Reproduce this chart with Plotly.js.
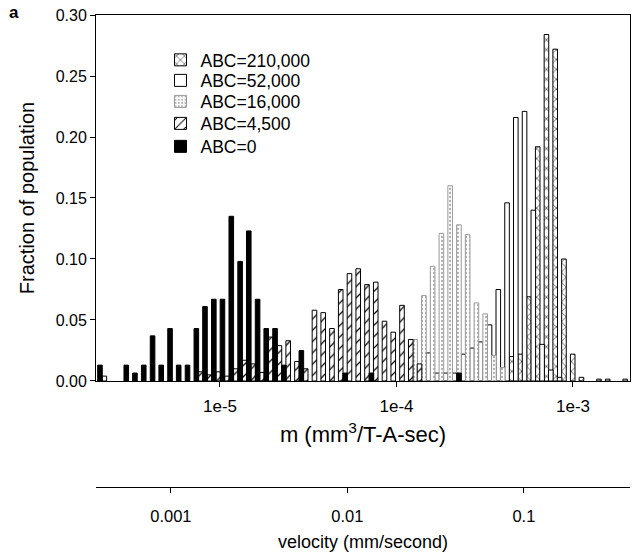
<!DOCTYPE html>
<html>
<head>
<meta charset="utf-8">
<script src="https://cdn.plot.ly/plotly-3.0.1.min.js"></script>
<style>html,body{margin:0;padding:0;background:#fff;}#chart{width:633px;height:552px;}</style>
</head>
<body>
<div id="chart"></div>
<script>
// Bin centres are log10(m) values (m in mm^3/T-A-sec); heights are fraction of population.
const logM_abc210000 = [-3.3488, -3.2992, -3.2496, -3.2000, -3.1504, -3.1008, -3.0512, -3.0016, -2.9520, -2.8528, -2.8032, -2.7040];
const frac_abc210000 = [0.020, 0.022, 0.069, 0.192, 0.284, 0.272, 0.100, 0.022, 0.003, 0.0015, 0.0015, 0.0015];

const logM_abc52000 = [-5.6552, -3.8200, -3.7704, -3.7208, -3.6712, -3.6216, -3.5720, -3.5224, -3.4728, -3.4232, -3.3736, -3.3240, -3.2744, -3.2248, -3.1752, -3.1256, -3.0760];
const frac_abc52000 = [0.004, 0.023, 0.0065, 0.0065, 0.0065, 0.022, 0.027, 0.032, 0.046, 0.075, 0.146, 0.216, 0.221, 0.140, 0.030, 0.009, 0.003];

const logM_abc16000 = [-3.8944, -3.8448, -3.7952, -3.7456, -3.6960, -3.6464, -3.5968, -3.5472, -3.4976, -3.4480, -3.3984];
const frac_abc16000 = [0.034, 0.070, 0.094, 0.121, 0.160, 0.128, 0.120, 0.064, 0.055, 0.021, 0.011];

const logM_abc4500 = [-5.1096, -5.0600, -5.0104, -4.9608, -4.9112, -4.8616, -4.8120, -4.7624, -4.7128, -4.6632, -4.6136, -4.5640, -4.5144, -4.4648, -4.4152, -4.3656, -4.3160, -4.2664, -4.2168, -4.1672, -4.1176, -4.0680, -4.0184, -3.9688, -3.9192, -3.8696];
const frac_abc4500 = [0.0075, 0.005, 0.0075, 0.004, 0.010, 0.017, 0.014, 0.007, 0.036, 0.029, 0.033, 0.016, 0.010, 0.058, 0.056, 0.043, 0.075, 0.088, 0.092, 0.079, 0.081, 0.049, 0.040, 0.062, 0.034, 0.014];

const logM_abc0 = [-5.680, -5.531, -5.482, -5.432, -5.382, -5.333, -5.283, -5.234, -5.184, -5.134, -5.085, -5.035, -4.986, -4.936, -4.886, -4.837, -4.787, -4.738, -4.688, -4.638, -4.539, -4.291, -4.142, -3.646];
const frac_abc0 = [0.013, 0.013, 0.0065, 0.013, 0.037, 0.013, 0.043, 0.013, 0.013, 0.043, 0.061, 0.067, 0.067, 0.135, 0.098, 0.123, 0.067, 0.043, 0.043, 0.013, 0.025, 0.0065, 0.0065, 0.0065];

const seriesNames = ['ABC=210,000', 'ABC=52,000', 'ABC=16,000', 'ABC=4,500', 'ABC=0'];
const mTickVals = [-5, -4, -3];
const mTickText = ['1e-5', '1e-4', '1e-3'];
const velTickVals = [0.001, 0.01, 0.1];
const velTickText = ['0.001', '0.01', '0.1'];
const yTickVals = [0, 0.05, 0.10, 0.15, 0.20, 0.25, 0.30];

const FONT = 'Liberation Sans, Arial, Helvetica, sans-serif';
const BW = 0.026;
const legendIds = ['legend', 'legend2', 'legend3', 'legend4', 'legend5'];
const legendRowY = [0.9047, 0.8612, 0.8167, 0.7701, 0.7214];

function barTrace(i, xs, ys, marker) {
  return {type: 'bar', name: seriesNames[i], legend: legendIds[i], x: xs, y: ys,
          width: xs.map(() => BW), marker: marker, hoverinfo: 'skip'};
}

const traces = [
  barTrace(0, logM_abc210000, frac_abc210000, {
    color: 'white', line: {color: 'black', width: 1},
    pattern: {shape: 'x', size: 7, solidity: 0.15, fgcolor: 'black', bgcolor: 'white', fillmode: 'replace'}}),
  barTrace(1, logM_abc52000, frac_abc52000, {
    color: 'white', line: {color: 'black', width: 1}}),
  barTrace(2, logM_abc16000, frac_abc16000, {
    color: 'white', line: {color: '#9a9a9a', width: 1},
    pattern: {shape: '.', size: 4, solidity: 0.25, fgcolor: '#b0b0b0', bgcolor: 'white', fillmode: 'replace'}}),
  barTrace(3, logM_abc4500, frac_abc4500, {
    color: 'white', line: {color: 'black', width: 1},
    pattern: {shape: '/', size: 8, solidity: 0.15, fgcolor: 'black', bgcolor: 'white', fillmode: 'replace'}}),
  barTrace(4, logM_abc0, frac_abc0, {
    color: 'black', line: {color: 'black', width: 1}}),
  {type: 'scatter', mode: 'markers', x: velTickVals, y: velTickVals.map(() => null),
   xaxis: 'x2', yaxis: 'y', showlegend: false, hoverinfo: 'skip', marker: {opacity: 0}}
];

const layout = {
  width: 633, height: 552,
  margin: {l: 96, r: 3, t: 15, b: 65, pad: 0},
  paper_bgcolor: 'white', plot_bgcolor: 'white',
  font: {family: FONT, color: 'black', size: 16},
  barmode: 'overlay',
  showlegend: true,
  xaxis: {
    range: [-5.7025, -2.677], autorange: false,
    showline: true, linecolor: 'black', linewidth: 1, mirror: true,
    ticks: 'outside', ticklen: 5, tickcolor: 'black', tickwidth: 1,
    tickvals: mTickVals, ticktext: mTickText, tickfont: {size: 17}, ticklabelstandoff: 5,
    showgrid: false, zeroline: false, anchor: 'y', automargin: false,
    title: {text: 'm (mm<sup>3</sup>/T-A-sec)', font: {size: 22}, standoff: 11}
  },
  yaxis: {
    domain: [0.2246, 1], range: [0, 0.30], autorange: false,
    showline: true, linecolor: 'black', linewidth: 1, mirror: true,
    ticks: 'outside', ticklen: 5, tickcolor: 'black', tickwidth: 1,
    tickvals: yTickVals, tickformat: '.2f', tickfont: {size: 16},
    showgrid: false, zeroline: false, automargin: false,
    title: {text: 'Fraction of population', font: {size: 20}, standoff: 15}
  },
  xaxis2: {
    type: 'log', overlaying: 'x', anchor: 'free', position: 0, side: 'bottom',
    range: [-3.424, -0.399], autorange: false,
    showline: true, linecolor: 'black', linewidth: 1,
    ticks: 'outside', ticklen: 5, tickcolor: 'black', tickwidth: 1,
    tickvals: velTickVals, ticktext: velTickText, tickfont: {size: 16.5}, ticklabelstandoff: 9,
    showgrid: false, zeroline: false, automargin: false,
    title: {text: 'velocity (mm/second)', font: {size: 18}, standoff: 13}
  },
  annotations: [{
    text: '<b>a</b>', xref: 'paper', yref: 'paper', x: -0.1536, y: 1.006,
    xanchor: 'center', yanchor: 'middle', showarrow: false, font: {size: 17, family: FONT}
  }]
};

legendIds.forEach((id, i) => {
  layout[id] = {x: 0.1208, y: legendRowY[i], xanchor: 'left', yanchor: 'middle',
    font: {family: FONT, size: 17.5, color: 'black'}, bgcolor: 'rgba(0,0,0,0)', borderwidth: 0};
});

Plotly.newPlot('chart', traces, layout, {displayModeBar: false, staticPlot: true});
</script>
</body>
</html>
